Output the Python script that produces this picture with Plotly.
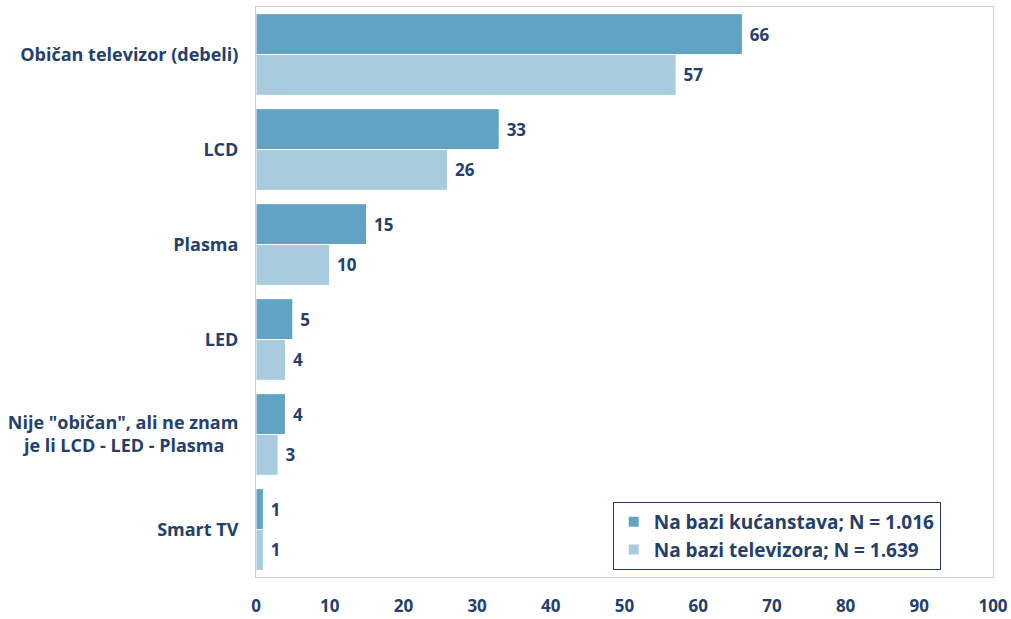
import plotly.graph_objects as go

categories = ["Običan televizor (debeli)", "LCD", "Plasma", "LED",
              "Nije \"običan\", ali ne znam<br>je li LCD - LED - Plasma\u00a0\u00a0\u00a0", "Smart TV"]
households = [66, 33, 15, 5, 4, 1]
televisions = [57, 26, 10, 4, 3, 1]
series_names = ["Na bazi kućanstava; N = 1.016", "Na bazi televizora; N = 1.639"]
x_ticks = [0, 10, 20, 30, 40, 50, 60, 70, 80, 90, 100]

navy = "#243F6B"
font_family = "'Open Sans', sans-serif"

fig = go.Figure()
fig.add_trace(go.Bar(
    y=categories, x=households, orientation="h", name=series_names[0],
    marker=dict(color="#62A3C3", line=dict(color="white", width=1)),
    texttemplate="\u00a0%{x}", textposition="outside", cliponaxis=False,
    textfont=dict(color=navy, size=17, family=font_family, weight="bold"),
))
fig.add_trace(go.Bar(
    y=categories, x=televisions, orientation="h", name=series_names[1],
    marker=dict(color="#A8CBDE", line=dict(color="white", width=1)),
    texttemplate="\u00a0%{x}", textposition="outside", cliponaxis=False,
    textfont=dict(color=navy, size=17, family=font_family, weight="bold"),
))

fig.update_layout(
    width=1011, height=619,
    margin=dict(l=256, r=18, t=7, b=42, autoexpand=False),
    paper_bgcolor="white", plot_bgcolor="white",
    barmode="group", bargap=0.14, bargroupgap=0,
    font=dict(family=font_family, color=navy, size=17),
    showlegend=True,
    legend=dict(
        x=0.484, y=0.072, xanchor="left", yanchor="middle",
        bordercolor=navy, borderwidth=1, bgcolor="white",
        font=dict(size=19, color=navy, family=font_family, weight="bold"),
        tracegroupgap=0, itemsizing="constant",
    ),
    xaxis=dict(
        range=[0, 100], tickvals=x_ticks, showgrid=False, zeroline=False,
        showline=True, linecolor="#D0D0D0", mirror=True, automargin=False,
        ticks="", tickfont=dict(size=17, color=navy, family=font_family, weight="bold"),
        ticklabelstandoff=14,
    ),
    yaxis=dict(
        autorange="reversed", showgrid=False, zeroline=False, automargin=False,
        showline=True, linecolor="#D0D0D0", mirror=True, ticks="",
        tickfont=dict(size=18, color=navy, family=font_family, weight="bold"),
        ticklabelstandoff=13,
    ),
)

fig.write_html("out.html", post_script="document.body.style.margin='0';",
               config={"displayModeBar": False})
